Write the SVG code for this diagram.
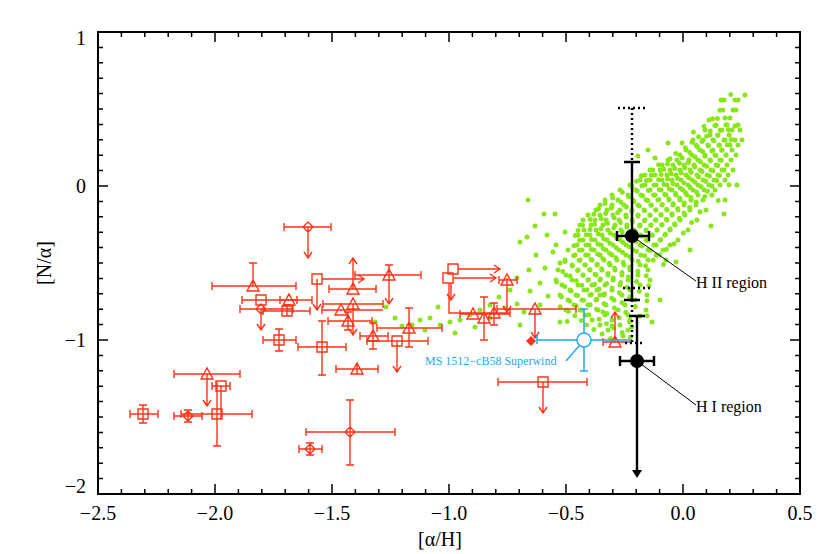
<svg xmlns="http://www.w3.org/2000/svg" width="830" height="554" viewBox="0 0 830 554">
<style>
.t{font-family:"Liberation Serif","Times New Roman","DejaVu Serif",serif;fill:#000}
.ax{font-size:20px}
.r{fill:none;stroke:#ff3318;stroke-width:1.4}
.b{fill:none;stroke:#22aaee;stroke-width:1.5}
.k{fill:none;stroke:#000;stroke-width:2.4}
.kd{fill:none;stroke:#000;stroke-width:2.4;stroke-dasharray:2 3}
.g{fill:none;stroke:#88e61a;stroke-width:5;stroke-linecap:round}
</style>
<rect width="830" height="554" fill="#fff"/>
<defs>
<path id="gp" d="M745 95h.01M735 100h.01M738 100h.01M733 110h.01M736 110h.01M730 118h.01M725 118h.01M738 125h.01M716 125h.01M727 125h.01M705 130h.01M722 130h.01M732 130h.01M740 130h.01M710 135h.01M718 135h.01M729 135h.01M693 140h.01M703 140h.01M713 140h.01M725 140h.01M735 140h.01M742 140h.01M696 145h.01M708 145h.01M719 145h.01M730 145h.01M738 145h.01M648 150h.01M686 150h.01M700 150h.01M713 150h.01M722 150h.01M732 150h.01M680 155h.01M692 155h.01M705 155h.01M715 155h.01M726 155h.01M736 155h.01M668 160h.01M677 160h.01M689 160h.01M698 160h.01M710 160h.01M720 160h.01M731 160h.01M662 165h.01M673 165h.01M684 165h.01M694 165h.01M704 165h.01M716 165h.01M727 165h.01M650 170h.01M660 170h.01M670 170h.01M680 170h.01M690 170h.01M700 170h.01M711 170h.01M722 170h.01M733 170h.01M645 175h.01M655 175h.01M667 175h.01M676 175h.01M686 175h.01M697 175h.01M707 175h.01M718 175h.01M728 175h.01M640 180h.01M650 180h.01M662 180h.01M672 180h.01M681 180h.01M692 180h.01M703 180h.01M714 180h.01M725 180h.01M630 185h.01M645 185h.01M656 185h.01M667 185h.01M677 185h.01M688 185h.01M698 185h.01M709 185h.01M720 185h.01M737 185h.01M620 190h.01M636 190h.01M650 190h.01M661 190h.01M672 190h.01M683 190h.01M693 190h.01M704 190h.01M715 190h.01M612 195h.01M628 195h.01M641 195h.01M655 195h.01M666 195h.01M676 195h.01M687 195h.01M698 195h.01M712 195h.01M605 200h.01M618 200h.01M633 200h.01M646 200h.01M658 200h.01M669 200h.01M680 200h.01M691 200h.01M703 200h.01M725 200h.01M600 205h.01M612 205h.01M624 205h.01M638 205h.01M651 205h.01M662 205h.01M673 205h.01M684 205h.01M696 205h.01M596 210h.01M607 210h.01M620 210h.01M632 210h.01M644 210h.01M656 210h.01M667 210h.01M678 210h.01M690 210h.01M706 210h.01M588 215h.01M600 215h.01M613 215h.01M626 215h.01M638 215h.01M650 215h.01M661 215h.01M672 215h.01M685 215h.01M583 220h.01M595 220h.01M606 220h.01M619 220h.01M632 220h.01M645 220h.01M656 220h.01M667 220h.01M680 220h.01M697 220h.01M580 225h.01M591 225h.01M603 225h.01M615 225h.01M627 225h.01M640 225h.01M651 225h.01M662 225h.01M675 225h.01M584 230h.01M596 230h.01M608 230h.01M621 230h.01M634 230h.01M646 230h.01M657 230h.01M670 230h.01M688 230h.01M578 235h.01M590 235h.01M602 235h.01M614 235h.01M627 235h.01M640 235h.01M652 235h.01M665 235h.01M583 240h.01M595 240h.01M607 240h.01M620 240h.01M633 240h.01M646 240h.01M660 240h.01M678 240h.01M577 245h.01M589 245h.01M601 245h.01M613 245h.01M626 245h.01M640 245h.01M654 245h.01M670 245h.01M568 250h.01M582 250h.01M594 250h.01M606 250h.01M619 250h.01M633 250h.01M648 250h.01M663 250h.01M575 255h.01M588 255h.01M600 255h.01M612 255h.01M626 255h.01M641 255h.01M656 255h.01M565 260h.01M580 260h.01M592 260h.01M604 260h.01M617 260h.01M632 260h.01M648 260h.01M666 260h.01M572 265h.01M585 265h.01M597 265h.01M610 265h.01M624 265h.01M640 265h.01M558 270h.01M578 270h.01M590 270h.01M602 270h.01M615 270h.01M630 270h.01M648 270h.01M566 275h.01M583 275h.01M596 275h.01M608 275h.01M622 275h.01M638 275h.01M572 280h.01M588 280h.01M600 280h.01M613 280h.01M628 280h.01M650 280h.01M562 285h.01M578 285h.01M592 285h.01M605 285h.01M620 285h.01M640 285h.01M570 290h.01M584 290h.01M597 290h.01M612 290h.01M630 290h.01M560 295h.01M576 295h.01M590 295h.01M604 295h.01M622 295h.01M647 295h.01M568 300h.01M582 300h.01M596 300h.01M614 300h.01M635 300h.01M574 305h.01M588 305h.01M606 305h.01M625 305h.01M566 310h.01M580 310h.01M598 310h.01M618 310h.01M646 310h.01M585 315h.01M605 315h.01M628 315h.01M592 320h.01M612 320h.01M630 320h.01M600 325h.01M620 325h.01M608 330h.01M628 330h.01"/>
</defs>
<g id="green" class="g">
<use href="#gp"/>
<use href="#gp" transform="rotate(-4 655 215) translate(-6 5)"/>
<path d="M528 200h.01M555 214h.01M535 226h.01M547 235h.01M527 237h.01M556 245h.01M520 242h.01M536 255h.01M553 252h.01M560 263h.01M545 268h.01M529 270h.01M556 280h.01M540 283h.01M517 278h.01M530 291h.01M548 296h.01M510 290h.01M517 304h.01M499 297h.01M490 305h.01M505 308h.01M524 312h.01M540 305h.01M480 310h.01M470 315h.01M460 320h.01M450 322h.01M440 325h.01M430 318h.01M420 320h.01M412 325h.01M425 330h.01M402 326h.01M395 318h.01M475 327h.01M490 318h.01M455 333h.01M375 322h.01M386 307h.01M438 307h.01M520 325h.01M560 322h.01M544 214h.01M565 232h.01M600 295h.01M612 326h.01M623 336h.01M603 312h.01M640 316h.01M652 322h.01M660 300h.01M676 262h.01M690 250h.01M711 226h.01M724 214h.01M735 126h.01M709 120h.01M655 158h.01M668 143h.01"/>
</g>
<g id="axes">
<rect x="98" y="32" width="702" height="462" fill="none" stroke="#000" stroke-width="2"/>
<path stroke="#000" stroke-width="1.5" fill="none" d="M121.4 494v-5M144.8 494v-5M168.2 494v-5M191.6 494v-5M238.4 494v-5M261.8 494v-5M285.2 494v-5M308.6 494v-5M355.4 494v-5M378.8 494v-5M402.2 494v-5M425.6 494v-5M472.4 494v-5M495.8 494v-5M519.2 494v-5M542.6 494v-5M589.4 494v-5M612.8 494v-5M636.2 494v-5M659.6 494v-5M706.4 494v-5M729.8 494v-5M753.2 494v-5M776.6 494v-5M215 494v-10M332 494v-10M449 494v-10M566 494v-10M683 494v-10
M121.4 32v5M144.8 32v5M168.2 32v5M191.6 32v5M238.4 32v5M261.8 32v5M285.2 32v5M308.6 32v5M355.4 32v5M378.8 32v5M402.2 32v5M425.6 32v5M472.4 32v5M495.8 32v5M519.2 32v5M542.6 32v5M589.4 32v5M612.8 32v5M636.2 32v5M659.6 32v5M706.4 32v5M729.8 32v5M753.2 32v5M776.6 32v5M215 32v10M332 32v10M449 32v10M566 32v10M683 32v10
M98 47.4h5M98 62.8h5M98 78.2h5M98 93.6h5M98 109h5M98 124.4h5M98 139.8h5M98 155.2h5M98 170.6h5M98 201.4h5M98 216.8h5M98 232.2h5M98 247.6h5M98 263h5M98 278.4h5M98 293.8h5M98 309.2h5M98 324.6h5M98 355.4h5M98 370.8h5M98 386.2h5M98 401.6h5M98 417h5M98 432.4h5M98 447.8h5M98 463.2h5M98 478.6h5M98 186h10M98 340h10
M800 47.4h-5M800 62.8h-5M800 78.2h-5M800 93.6h-5M800 109h-5M800 124.4h-5M800 139.8h-5M800 155.2h-5M800 170.6h-5M800 201.4h-5M800 216.8h-5M800 232.2h-5M800 247.6h-5M800 263h-5M800 278.4h-5M800 293.8h-5M800 309.2h-5M800 324.6h-5M800 355.4h-5M800 370.8h-5M800 386.2h-5M800 401.6h-5M800 417h-5M800 432.4h-5M800 447.8h-5M800 463.2h-5M800 478.6h-5M800 186h-10M800 340h-10"/>
<g class="t ax" text-anchor="end">
<text x="86" y="45">1</text><text x="86" y="193">0</text><text x="86" y="347">−1</text><text x="86" y="493">−2</text>
</g>
<g class="t ax" text-anchor="middle">
<text x="98" y="520">−2.5</text><text x="215" y="520">−2.0</text><text x="332" y="520">−1.5</text><text x="449" y="520">−1.0</text><text x="566" y="520">−0.5</text><text x="683" y="520">0.0</text><text x="800" y="520">0.5</text>
<text x="440" y="546">[α/H]</text>
<text transform="translate(51 263) rotate(-90)">[N/α]</text>
</g>
</g>
<g id="red" class="r">
<path d="M284 227h47M284 223v8M331 223v8M308 227v31M304 252l4 6 4-6M303 227l5-5 5 5-5 5z"/>
<path d="M212 286h84M212 282v8M296 282v8M253 263v23M249 263h8M247 291l6-11 6 11z"/>
<path d="M242 300h55M242 296v8M297 296v8M256 295h10v10h-10z"/>
<path d="M240 309h53M240 305v8M293 305v8M261 309v21M257 324l4 6 4-6M256 309l5-5 5 5-5 5z"/>
<path d="M280 300h32M280 296v8M312 296v8M283 305l6-11 6 11z"/>
<path d="M263 311h47M263 307v8M310 307v8M287 305v11M283 305h8M283 316h8M282 306h10v10h-10z"/>
<path d="M322 279h42M358 275l6 4-6 4M317 279v31M313 304l4 6 4-6M312 274h10v10h-10z"/>
<path d="M329 289h47M329 285v8M376 285v8M353 289v-31M349 264l4-6 4 6M347 294l6-11 6 11z"/>
<path d="M323 304h60M323 300v8M383 300v8M353 304v31M349 329l4 6 4-6M347 309l6-11 6 11z"/>
<path d="M355 275h66M355 271v8M421 271v8M389 265v10M385 265h8M389 275v29M385 298l4 6 4-6M383 280l6-11 6 11z"/>
<path d="M322 310h61M322 306v8M335 315l6-11 6 11z"/>
<path d="M328 321h44M328 317v8M372 317v8M348 312v18M344 312h8M344 330h8M342 326l6-11 6 11z"/>
<path d="M298 347h48M298 343v8M346 343v8M322 321v54M318 321h8M318 375h8M317 342h10v10h-10z"/>
<path d="M263 340h33M263 336v8M296 336v8M279 329v22M275 329h8M275 351h8M274 335h10v10h-10z"/>
<path d="M360 336h28M360 332v8M388 332v8M373 323v26M369 323h8M369 349h8M367 341l6-11 6 11z"/>
<path d="M377 328h65M377 324v8M442 324v8M409 308v39M405 308h8M405 347h8M403 333l6-11 6 11z"/>
<path d="M367 341h61M367 337v8M428 337v8M397 341v31M393 366l4 6 4-6M392 336h10v10h-10z"/>
<path d="M336 369h42M336 365v8M378 365v8M357 364v10M351 374l6-11 6 11z"/>
<path d="M174 374h66M174 370v8M240 370v8M207 374v32M203 400l4 6 4-6M201 379l6-11 6 11z"/>
<path d="M212 386h18M212 382v8M230 382v8M221 386v33M216 381h10v10h-10z"/>
<path d="M181 414h71M181 410v8M252 410v8M217 382v64M213 446h8M212 409h10v10h-10z"/>
<path d="M130 414h28M130 410v8M158 410v8M143 405v18M139 405h8M139 423h8M138 409h10v10h-10z"/>
<path d="M174 416h28M174 412v8M202 412v8M188 410v12M184 410h8M184 422h8M183 416l5-5 5 5-5 5z"/>
<path d="M306 432h89M306 428v8M395 428v8M350 400v65M346 400h8M346 465h8M345 432l5-5 5 5-5 5z"/>
<path d="M299 449h23M299 445v8M322 445v8M310 443v12M306 443h8M306 455h8M305 449l5-5 5 5-5 5z"/>
<path d="M458 269h42M494 265l6 4-6 4M448 264h10v10h-10z"/>
<path d="M453 278h43M490 274l6 4-6 4M451 283v17M447 294l4 6 4-6M443 273h10v10h-10z"/>
<path d="M449 283v30h61M460 314h50M460 310v8M510 309v8M484 297v43M480 297h8M480 340h8M494 303v22M490 303h8M490 325h8M467 319l6-11 6 11zM478 323l6-11 6 11zM488 318l6-11 6 11z"/>
<path d="M499 280h18M499 276v8M517 276v8M507 278v34M503 306l4 6 4-6M501 285l6-11 6 11z"/>
<path d="M497 309h79M497 305v8M576 305v8M535 309v29M531 332l4 6 4-6M529 314l6-11 6 11z"/>
<path d="M527 341l4-4 4 4-4 4z" fill="#ff3318"/>
<path d="M603 342h27M603 338v8M615 342v-30M611 318l4-6 4 6M609 347l6-11 6 11z"/>
<path d="M498 382h89M498 378v8M587 378v8M543 382v31M539 407l4 6 4-6M538 377h10v10h-10z"/>
</g>
<g id="superwind">
<path class="b" d="M537 340h40M591 340h41M537 336v8M584 309v24M584 347v24M580 309h8M580 371h8"/>
<circle class="b" cx="584" cy="340" r="7"/>
<path class="b" stroke-width="1" d="M566 361l13-15"/>
<text class="t" x="425" y="365" font-size="12" style="fill:#22aaee">MS 1512−cB58 Superwind</text>
</g>
<g id="hii">
<path class="kd" d="M618 108h27M632 108v54M623 288h27M632 300v45M625 343h20"/>
<path class="k" d="M632 162v138M624 162h16M624 300h16M617 236h32M617 231v10M649 231v10"/>
<circle cx="632" cy="236" r="7" fill="#000"/>
<path stroke="#000" stroke-width="1" d="M632 236l64 45"/>
<text class="t" x="696" y="288" font-size="16">H II region</text>
</g>
<g id="hi">
<path class="k" d="M637 316v158M629 316h16M620 361h34M620 356v10M654 356v10"/>
<path d="M632 470l5 8 5-8z" fill="#000"/>
<circle cx="637" cy="361" r="7" fill="#000"/>
<path stroke="#000" stroke-width="1" d="M637 361l59 44"/>
<text class="t" x="696" y="412" font-size="16">H I region</text>
</g>
</svg>
